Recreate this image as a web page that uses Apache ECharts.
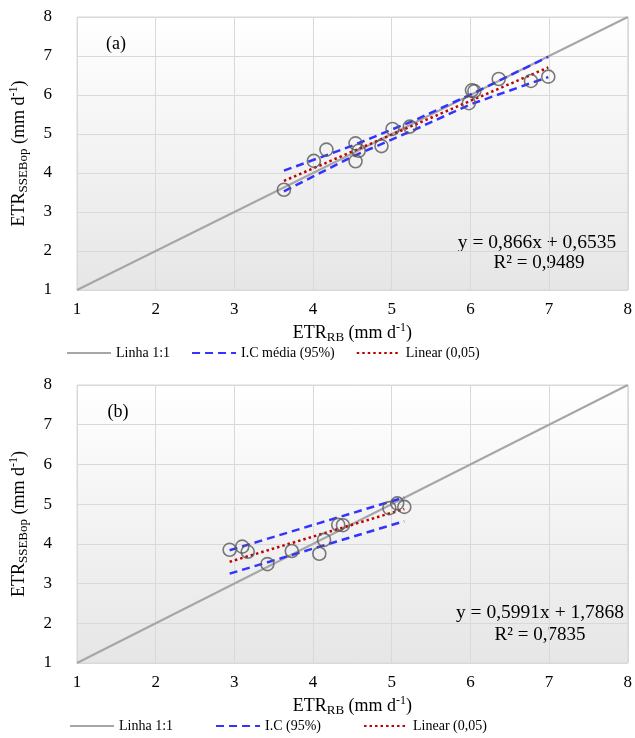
<!DOCTYPE html>
<html>
<head>
<meta charset="utf-8">
<script src="https://cdn.jsdelivr.net/npm/echarts@6/dist/echarts.min.js"></script>
<style>
  html, body { margin: 0; padding: 0; background: #ffffff; }
  #chart { width: 635px; height: 738px; }
</style>
</head>
<body>
<div id="chart"></div>
<script>
// Panel (a): observed ETR_RB vs ETR_SSEBop
const aX = [3.63, 4.01, 4.17, 4.54, 4.58, 4.54, 4.87, 5.01, 5.23, 5.98, 6.02, 6.05, 6.36, 6.77, 6.99];
const aY = [3.57, 4.31, 4.60, 4.76, 4.57, 4.30, 4.69, 5.13, 5.19, 5.79, 6.12, 6.10, 6.41, 6.36, 6.47];
const aSlope = 0.866, aIntercept = 0.6535, aR2 = '0,9489';
const aBandX = [3.63, 4.5, 5.3, 6.0, 6.99];
const aBandUpper = [4.06, 4.70, 5.36, 6.01, 6.98];
const aBandLower = [3.53, 4.42, 5.12, 5.76, 6.46];

// Panel (b)
const bX = [2.94, 3.10, 3.17, 3.42, 3.73, 4.08, 4.14, 4.32, 4.38, 4.97, 5.07, 5.16];
const bY = [3.85, 3.93, 3.80, 3.49, 3.82, 3.75, 4.10, 4.48, 4.47, 4.90, 5.02, 4.93];
const bSlope = 0.5991, bIntercept = 1.7868, bR2 = '0,7835';
const bBandX = [2.94, 5.16];
const bBandUpper = [3.84, 5.17];
const bBandLower = [3.25, 4.57];

const identityLine = [[1, 1], [8, 8]];
const axisTicks = { min: 1, max: 8, interval: 1 };

const FONT = 'Liberation Serif';
const zip = (xs, ys) => xs.map((x, i) => [x, ys[i]]);
const fitLine = (xs, m, c) => {
  const lo = Math.min(...xs), hi = Math.max(...xs);
  return [[lo, m * lo + c], [hi, m * hi + c]];
};
const fmt = v => String(v).replace('.', ',');

const plotBg = {
  type: 'linear', x: 0, y: 0, x2: 0, y2: 1,
  colorStops: [{ offset: 0, color: '#ffffff' }, { offset: 1, color: '#e6e6e6' }]
};

const richName = {
  b: { fontFamily: FONT, fontSize: 18, color: '#000' },
  s: { fontFamily: FONT, fontSize: 13, color: '#000', verticalAlign: 'bottom' },
  p: { fontFamily: FONT, fontSize: 12, color: '#000', verticalAlign: 'top' }
};

function xAxisFor(gridIndex) {
  return {
    type: 'value', gridIndex, ...axisTicks,
    name: '{b|ETR}{s|RB}{b| (mm d}{p|-1}{b|)}',
    nameLocation: 'middle', nameGap: 32,
    nameTextStyle: { rich: richName, lineHeight: 22 },
    axisLine: { show: false }, axisTick: { show: false },
    axisLabel: { fontFamily: FONT, fontSize: 17, color: '#000', margin: 11 },
    splitLine: { show: true, lineStyle: { color: '#d9d9d9', width: 1 } }
  };
}
function yAxisFor(gridIndex) {
  return {
    type: 'value', gridIndex, ...axisTicks,
    name: '{b|ETR}{s|SSEBop}{b| (mm d}{p|-1}{b|)}',
    nameLocation: 'middle', nameGap: 47, nameRotate: 90,
    nameTextStyle: { rich: richName, lineHeight: 22 },
    axisLine: { show: false }, axisTick: { show: false },
    axisLabel: { fontFamily: FONT, fontSize: 17, color: '#000', margin: 25 },
    splitLine: { show: true, lineStyle: { color: '#d9d9d9', width: 1 } }
  };
}

const grayLine = { color: '#a6a6a6', width: 2 };
const blueDash = { color: '#3333ff', width: 2.5, type: [8, 5] };
const redDot = { color: '#c00000', width: 2.5, type: [2.5, 3] };

function panelSeries(idx, xs, ys, m, c, bandX, up, low, bandName) {
  const base = { xAxisIndex: idx, yAxisIndex: idx, symbol: 'none', silent: true, animation: false };
  return [
    { ...base, type: 'line', name: 'Linha 1:1', data: identityLine, lineStyle: grayLine, itemStyle: { color: grayLine.color }, z: 2 },
    { ...base, type: 'line', name: bandName, data: zip(bandX, up), lineStyle: blueDash, itemStyle: { color: blueDash.color }, z: 3 },
    { ...base, type: 'line', name: bandName, data: zip(bandX, low), lineStyle: blueDash, itemStyle: { color: blueDash.color }, z: 3 },
    { ...base, type: 'line', name: 'Linear (0,05)', data: fitLine(xs, m, c), lineStyle: redDot, itemStyle: { color: redDot.color }, z: 4 },
    {
      type: 'scatter', name: 'obs' + idx, xAxisIndex: idx, yAxisIndex: idx, data: zip(xs, ys),
      symbol: 'circle', symbolSize: 13, silent: true, animation: false, z: 5,
      itemStyle: { color: 'rgba(0,0,0,0)', borderColor: '#595959', borderWidth: 1.6 }
    }
  ];
}

function legendFor(top, left, gap, names) {
  return {
    top, left, itemGap: gap, itemWidth: 44, itemHeight: 14,
    data: names, selectedMode: false,
    itemStyle: { opacity: 0 },
    textStyle: { fontFamily: FONT, fontSize: 14, color: '#000' }
  };
}

function textEl(text, x, y, size, align) {
  return {
    type: 'text', x, y,
    style: { text, fontFamily: FONT, fontSize: size, fill: '#000', align: align || 'center', verticalAlign: 'middle' }
  };
}

const chart = echarts.init(document.getElementById('chart'), null, { renderer: 'canvas' });
chart.setOption({
  animation: false,
  backgroundColor: '#ffffff',
  grid: [
    { left: 74, right: 6, top: 17, height: 273, show: true, borderColor: '#d9d9d9', borderWidth: 1, backgroundColor: plotBg },
    { left: 76, right: 6, top: 385, height: 278, show: true, borderColor: '#d9d9d9', borderWidth: 1, backgroundColor: plotBg }
  ],
  xAxis: [xAxisFor(0), xAxisFor(1)],
  yAxis: [yAxisFor(0), yAxisFor(1)],
  legend: [
    legendFor(341, 61, 21, ['Linha 1:1', 'I.C média (95%)', 'Linear (0,05)']),
    legendFor(714, 64, 42, ['Linha 1:1', 'I.C (95%)', 'Linear (0,05)'])
  ],
  graphic: [
    textEl('(a)', 116, 44, 18),
    textEl('(b)', 118, 412, 18),
    textEl('y = ' + fmt(aSlope) + 'x + ' + fmt(aIntercept), 537, 243, 19.5),
    textEl('R² = ' + aR2, 539, 263, 19),
    textEl('y = ' + fmt(bSlope) + 'x + ' + fmt(bIntercept), 540, 613, 19.5),
    textEl('R² = ' + bR2, 540, 635, 19)
  ],
  series: [
    ...panelSeries(0, aX, aY, aSlope, aIntercept, aBandX, aBandUpper, aBandLower, 'I.C média (95%)'),
    ...panelSeries(1, bX, bY, bSlope, bIntercept, bBandX, bBandUpper, bBandLower, 'I.C (95%)')
  ]
});
</script>
</body>
</html>
